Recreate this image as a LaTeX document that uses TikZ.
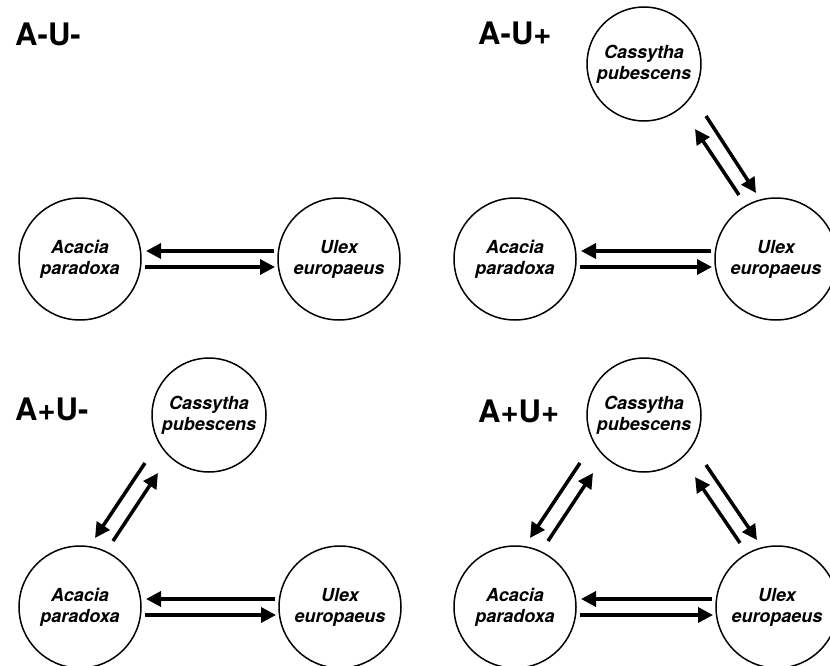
\documentclass[tikz,border=0pt]{standalone}
\usepackage{fontspec}
\setmainfont{TeX Gyre Heros}
\usetikzlibrary{arrows.meta,calc}
\begin{document}
\begin{tikzpicture}[x=1pt,y=-1pt,
  big/.style={circle,draw,line width=1.5pt,minimum size=122pt,inner sep=0pt,align=center,
    font=\fontsize{18}{21}\selectfont\bfseries\itshape},
  cas/.style={big,minimum size=114pt},
  lab/.style={anchor=base west,inner sep=0pt,font=\fontsize{31}{34}\selectfont\bfseries},
  arr/.style={line width=3.5pt,-{Triangle[length=15pt,width=15pt]}}]
\path[use as bounding box] (0,0) rectangle (830,666);

% Panel A-U-
\node[lab] (l1) at (15,46) {A-U-};
\node[big] (a1) at (80,259) {Acacia\\paradoxa};
\node[big] (u1) at (339,259) {Ulex\\europaeus};
\draw[arr] ($(u1)+(-65,-8)$) -- ($(a1)+(66,-8)$);
\draw[arr] ($(a1)+(65,8)$) -- ($(u1)+(-64,8)$);

% Panel A-U+
\node[lab] (l2) at (478,45) {A-U+};
\node[cas] (c2) at (644,64) {Cassytha\\pubescens};
\node[big] (a2) at (515,259) {Acacia\\paradoxa};
\node[big] (u2) at (776,259) {Ulex\\europaeus};
\draw[arr] ($(u2)+(-65,-8)$) -- ($(a2)+(66,-8)$);
\draw[arr] ($(a2)+(65,8)$) -- ($(u2)+(-64,8)$);
\draw[arr] ($(u2)+(-37,-64)$) -- ($(c2)+(51,65)$);
\draw[arr] ($(c2)+(62,52)$) -- ($(u2)+(-20,-66)$);

% Panel A+U-
\node[lab] (l3) at (15,420) {A+U-};
\node[cas] (c3) at (209,415) {Cassytha\\pubescens};
\node[big] (a3) at (80,607) {Acacia\\paradoxa};
\node[big] (u3) at (340,607) {Ulex\\europaeus};
\draw[arr] ($(u3)+(-65,-8)$) -- ($(a3)+(66,-8)$);
\draw[arr] ($(a3)+(65,8)$) -- ($(u3)+(-64,8)$);
\draw[arr] ($(c3)+(-64,48)$) -- ($(a3)+(15,-69)$);
\draw[arr] ($(a3)+(33,-66)$) -- ($(c3)+(-51,58)$);

% Panel A+U+
\node[lab] (l4) at (478,422) {A+U+};
\node[cas] (c4) at (644,415) {Cassytha\\pubescens};
\node[big] (a4) at (515,607) {Acacia\\paradoxa};
\node[big] (u4) at (777,607) {Ulex\\europaeus};
\draw[arr] ($(u4)+(-65,-8)$) -- ($(a4)+(66,-8)$);
\draw[arr] ($(a4)+(65,8)$) -- ($(u4)+(-64,8)$);
\draw[arr] ($(c4)+(-64,48)$) -- ($(a4)+(15,-69)$);
\draw[arr] ($(a4)+(33,-66)$) -- ($(c4)+(-51,58)$);
\draw[arr] ($(u4)+(-37,-64)$) -- ($(c4)+(51,62)$);
\draw[arr] ($(c4)+(62,50)$) -- ($(u4)+(-20,-67)$);
\end{tikzpicture}
\end{document}
